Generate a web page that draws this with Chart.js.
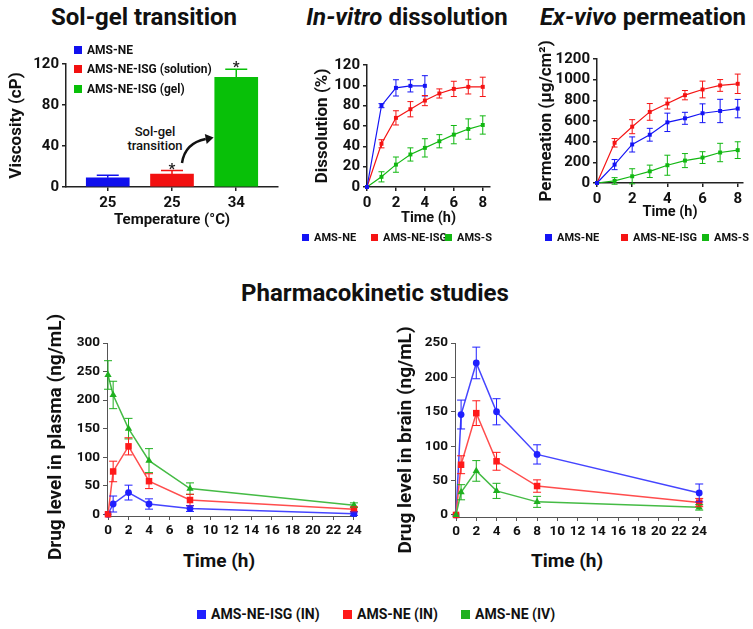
<!DOCTYPE html>
<html>
<head>
<meta charset="utf-8">
<script src="https://cdn.jsdelivr.net/npm/chart.js@4.4.1/dist/chart.umd.min.js"></script>
<style>
  body { margin: 0; background: #fff; }
  #page { position: relative; width: 753px; height: 629px; overflow: hidden; font-family: Roboto, sans-serif; color: #111; }
  canvas { position: absolute; }
  .title { position: absolute; width: 400px; text-align: center; font-weight: 700; font-size: 24px; line-height: 28px; white-space: nowrap; }
  .lg { position: absolute; display: flex; align-items: center; height: 18px; white-space: nowrap; font-weight: 700; }
  .lg i { display: inline-block; width: 8px; height: 8px; margin-right: 5px; }
  .axt { position: absolute; width: 300px; text-align: center; font-weight: 700; line-height: 24px; white-space: nowrap; }
  .note { position: absolute; width: 80px; text-align: center; font-size: 13px; font-weight: 500; line-height: 14px; }
</style>
</head>
<body>
<div id="page">
  <div class="title" style="left:-56px;top:3px">Sol-gel transition</div>
  <div class="title" style="left:207px;top:3px"><i>In-vitro</i> dissolution</div>
  <div class="title" style="left:443px;top:3px"><i>Ex-vivo</i> permeation</div>
  <div class="title" style="left:175px;top:279px">Pharmacokinetic studies</div>
  <div class="note" style="left:115px;top:125px">Sol-gel<br>transition</div>

  <canvas id="solgel" width="285" height="210" style="left:0;top:30px"></canvas>
  <canvas id="dissolution" width="195" height="200" style="left:300px;top:30px"></canvas>
  <canvas id="permeation" width="220" height="200" style="left:530px;top:30px"></canvas>
  <canvas id="plasma" width="305" height="245" style="left:60px;top:300px"></canvas>
  <canvas id="brain" width="295" height="245" style="left:415px;top:300px"></canvas>

  <div class="axt" style="left:-95px;top:425px;font-size:19px;transform:rotate(-90deg)">Drug level in plasma (ng/mL)</div>
  <div class="axt" style="left:255px;top:428px;font-size:19px;transform:rotate(-90deg)">Drug level in brain (ng/mL)</div>
  <div class="axt" style="left:69px;top:549px;font-size:19px">Time (h)</div>
  <div class="axt" style="left:417px;top:549px;font-size:19px">Time (h)</div>
</div>

<script>
// ____________________ data ____________________
// Sol-gel transition (viscosity, cP)
const tempLabels = ['25', '25', '34'];
const solGelNames = ['AMS-NE', 'AMS-NE-ISG (solution)', 'AMS-NE-ISG (gel)'];
const viscosity = [9, 12.5, 107];
const viscosityErr = [2.5, 3.5, 8];
const viscositySig = ['', '*', '*'];
const viscosityTicks = [0, 40, 80, 120];

// In-vitro dissolution (%)
const dissTime = [0, 1, 2, 3, 4, 5, 6, 7, 8];
const dissNE = [0, 80, 97.5, 99.5, 99.5];
const dissNEErr = [0, 2, 8, 6, 10];
const dissISG = [0, 42.5, 68, 76.5, 85, 92, 96.5, 98.5, 98.5];
const dissISGErr = [0, 4, 7, 7.5, 5, 4.5, 7.5, 7, 9.5];
const dissS = [0, 10, 22, 32, 38.5, 45, 51.5, 57, 61];
const dissSErr = [0, 5, 7.5, 6.5, 9, 6.5, 9, 10, 9];
const dissTicks = [0, 20, 40, 60, 80, 100, 120];

// Ex-vivo permeation (ug/cm2)
const permTime = [0, 1, 2, 3, 4, 5, 6, 7, 8];
const permNE = [0, 178, 373, 467, 587, 626, 675, 697, 720];
const permNEErr = [0, 49, 73, 62, 89, 58, 91, 113, 89];
const permISG = [0, 389, 545, 688, 769, 850, 905, 944, 960];
const permISGErr = [0, 41, 68, 81, 53, 45, 81, 57, 94];
const permS = [0, 20, 65, 113, 172, 217, 246, 295, 318];
const permSErr = [0, 32, 73, 60, 97, 68, 57, 89, 81];
const permTicks = [0, 200, 400, 600, 800, 1000, 1200];
const timeTicks8 = [0, 2, 4, 6, 8];
const topNames = ['AMS-NE', 'AMS-NE-ISG', 'AMS-S'];

// Pharmacokinetics (ng/mL)
const pkTime = [0, 0.5, 2, 4, 8, 24];
const pkTicks = [0, 2, 4, 6, 8, 10, 12, 14, 16, 18, 20, 22, 24];
const pkNames = ['AMS-NE-ISG (IN)', 'AMS-NE (IN)', 'AMS-NE (IV)'];
const plasmaISG = [0, 18, 38, 18, 10, 1];
const plasmaISGErr = [0, 14, 13, 9, 5, 3];
const plasmaNEIN = [0, 75, 119, 58, 25, 9];
const plasmaNEINErr = [0, 18, 15, 13, 10, 4];
const plasmaNEIV = [244, 209, 150, 94, 45, 16];
const plasmaNEIVErr = [25, 24, 18, 21, 10, 4];
const plasmaTicks = [0, 50, 100, 150, 200, 250, 300];
const brainISG = [0, 146, 221, 150, 88, 32];
const brainISGErr = [0, 21, 23, 19, 14, 13];
const brainNEIN = [0, 73, 148, 78, 42, 18];
const brainNEINErr = [0, 13, 18, 13, 9, 6];
const brainNEIV = [0, 33, 64, 35, 19, 11];
const brainNEIVErr = [0, 11, 15, 11, 8, 4];
const brainTicks = [0, 50, 100, 150, 200, 250];

// colours
const BLUE = '#1414f5', RED = '#f51414', GREEN = '#12b812';
const barColors = ['#1010ee', '#f21010', '#08c008'];

// ____________________ plugins ____________________
const errorBars = {
    id: 'errorBars',
    afterDatasetsDraw(chart, args, opts) {
        const ctx = chart.ctx;
        const y = chart.scales.y;
        chart.data.datasets.forEach((ds, di) => {
            if (!ds.errors) return;
            const meta = chart.getDatasetMeta(di);
            ctx.save();
            ctx.lineWidth = opts.width || 1;
            meta.data.forEach((el, i) => {
                const e = ds.errors[i];
                if (!e) return;
                const v = ds.data[i].y;
                const top = y.getPixelForValue(v + e);
                const bot = opts.upOnly ? el.y : y.getPixelForValue(v - e);
                ctx.strokeStyle = Array.isArray(ds.errorColor) ? ds.errorColor[i] : ds.errorColor;
                ctx.beginPath();
                ctx.moveTo(el.x, top); ctx.lineTo(el.x, bot);
                ctx.moveTo(el.x - opts.cap, top); ctx.lineTo(el.x + opts.cap, top);
                if (!opts.upOnly) { ctx.moveTo(el.x - opts.cap, bot); ctx.lineTo(el.x + opts.cap, bot); }
                ctx.stroke();
            });
            ctx.restore();
        });
    }
};

const sigStars = {
    id: 'sigStars',
    afterDatasetsDraw(chart) {
        const ctx = chart.ctx, y = chart.scales.y;
        const ds = chart.data.datasets[0];
        const meta = chart.getDatasetMeta(0);
        ctx.save();
        ctx.font = 'bold 15px Roboto';
        ctx.textAlign = 'center';
        ctx.fillStyle = '#222';
        meta.data.forEach((el, i) => {
            if (!viscositySig[i]) return;
            const top = y.getPixelForValue(ds.data[i].y + ds.errors[i]);
            ctx.fillText(viscositySig[i], el.x, top + 3);
        });
        ctx.restore();
    }
};

// curved arrow from the "Sol-gel transition" note to the gel bar
const solGelArrow = {
    id: 'solGelArrow',
    afterDraw(chart) {
        const ctx = chart.ctx;
        const gel = chart.getDatasetMeta(0).data[2];
        const sx = 182, sy = 133, cx = 185, cy = 113;
        const ex = gel.x - gel.width / 2 - 9, ey = 109;
        ctx.save();
        ctx.strokeStyle = '#111';
        ctx.fillStyle = '#111';
        ctx.lineWidth = 2.5;
        ctx.beginPath();
        ctx.moveTo(sx, sy);
        ctx.quadraticCurveTo(cx, cy, ex, ey);
        ctx.stroke();
        const a = Math.atan2(ey - cy, ex - cx);
        ctx.beginPath();
        ctx.moveTo(ex + 8 * Math.cos(a), ey + 8 * Math.sin(a));
        ctx.lineTo(ex + 5 * Math.cos(a + Math.PI / 2), ey + 5 * Math.sin(a + Math.PI / 2));
        ctx.lineTo(ex + 5 * Math.cos(a - Math.PI / 2), ey + 5 * Math.sin(a - Math.PI / 2));
        ctx.closePath();
        ctx.fill();
        ctx.restore();
    }
};

// ____________________ helpers ____________________
const bold = size => ({ family: 'Roboto', weight: 'bold', size: size });
const pts = (xs, ys) => ys.map((v, i) => ({ x: xs[i], y: v }));

function axis(o) {
    return {
        type: 'linear',
        offset: false,
        min: o.min,
        max: o.max,
        afterBuildTicks: s => { s.ticks = o.ticks.map(v => ({ value: v })); },
        afterFit: s => { if (o.width !== undefined) s.width = o.width; if (o.height !== undefined) s.height = o.height; },
        ticks: { font: bold(o.font), color: '#111', padding: 3, autoSkip: false, maxRotation: 0, callback: o.callback },
        grid: { display: true, offset: false, drawOnChartArea: false, tickLength: 4, color: o.color, lineWidth: o.lineWidth },
        border: { display: true, color: o.color, width: o.lineWidth },
        title: o.title ? { display: true, text: o.title, font: bold(o.titleFont), color: '#111', padding: o.titlePad } : { display: false }
    };
}

function series(label, xs, ys, errs, color, style, radius, lineColor, width) {
    return {
        label: label,
        data: pts(xs, ys),
        errors: errs,
        errorColor: color,
        borderColor: lineColor || color,
        backgroundColor: color,
        pointBackgroundColor: color,
        pointBorderColor: color,
        borderWidth: width,
        pointStyle: style,
        pointRadius: radius,
        pointBorderWidth: 0,
        clip: false,
        tension: 0
    };
}

const baseOptions = (pad, scales, cap) => ({
    responsive: false,
    animation: false,
    layout: { padding: pad },
    plugins: { legend: { display: false }, tooltip: { enabled: false }, errorBars: { cap: cap, width: 1 } },
    scales: scales
});

function addLegend(names, colors, spots, size, box) {
    const page = document.getElementById('page');
    names.forEach((n, i) => {
        const d = document.createElement('div');
        d.className = 'lg';
        d.style.left = spots[i][0] + 'px';
        d.style.top = (spots[i][1] - 9) + 'px';
        d.style.fontSize = size + 'px';
        d.innerHTML = `<i style="background:${colors[i]};width:${box}px;height:${box}px"></i>${n}`;
        page.appendChild(d);
    });
}

// ____________________ Sol-gel (bar) ____________________
new Chart(document.getElementById('solgel'), {
    type: 'bar',
    data: {
        datasets: [{
            data: pts([0, 1, 2], viscosity),
            errors: viscosityErr,
            errorColor: barColors,
            backgroundColor: barColors,
            barThickness: 43,
            borderWidth: 0
        }]
    },
    options: {
        responsive: false,
        animation: false,
        layout: { padding: { top: 34, right: 7, left: 0, bottom: 0 } },
        plugins: { legend: { display: false }, tooltip: { enabled: false }, errorBars: { cap: 11, upOnly: true, width: 1.5 } },
        scales: {
            x: axis({ min: -0.65, max: 2.65, ticks: [0, 1, 2], callback: v => tempLabels[v], font: 15, color: '#222', lineWidth: 1.5,
                      height: 53, title: 'Temperature (°C)', titleFont: 15, titlePad: { top: 0, bottom: 11 } }),
            y: axis({ min: 0, max: 120, ticks: viscosityTicks, font: 15, color: '#222', lineWidth: 1.5,
                      width: 66, title: 'Viscosity (cP)', titleFont: 17, titlePad: { top: 7, bottom: 0 } })
        }
    },
    plugins: [errorBars, sigStars, solGelArrow]
});
addLegend(solGelNames, barColors, [[74, 50], [74, 69], [74, 89]], 12, 8);

// ____________________ In-vitro dissolution ____________________
new Chart(document.getElementById('dissolution'), {
    type: 'line',
    data: {
        datasets: [
            series(topNames[0], dissTime, dissNE, dissNEErr, BLUE, 'rect', 2.8, null, 1.2),
            series(topNames[1], dissTime, dissISG, dissISGErr, RED, 'rect', 2.8, null, 1.2),
            series(topNames[2], dissTime, dissS, dissSErr, GREEN, 'rect', 2.8, null, 1.2)
        ]
    },
    options: baseOptions({ top: 35, right: 5, left: 0, bottom: 0 }, {
        x: axis({ min: 0, max: 8.5, ticks: timeTicks8, font: 15, color: '#222', lineWidth: 1.5,
                  height: 43, title: 'Time (h)', titleFont: 14.5, titlePad: { top: 0, bottom: 3 } }),
        y: axis({ min: 0, max: 120, ticks: dissTicks, font: 15, color: '#222', lineWidth: 1.5,
                  width: 67, title: 'Dissolution (%)', titleFont: 17, titlePad: { top: 12.5, bottom: 0 } })
    }, 3),
    plugins: [errorBars]
});
addLegend(topNames, [BLUE, RED, GREEN], [[302, 237], [371, 237], [445, 237]], 11, 7);

// ____________________ Ex-vivo permeation ____________________
new Chart(document.getElementById('permeation'), {
    type: 'line',
    data: {
        datasets: [
            series(topNames[0], permTime, permNE, permNEErr, BLUE, 'rect', 2.8, null, 1.2),
            series(topNames[1], permTime, permISG, permISGErr, RED, 'rect', 2.8, null, 1.2),
            series(topNames[2], permTime, permS, permSErr, GREEN, 'rect', 2.8, null, 1.2)
        ]
    },
    options: baseOptions({ top: 29, right: 7, left: 0, bottom: 0 }, {
        x: axis({ min: 0, max: 8.3, ticks: timeTicks8, font: 15, color: '#222', lineWidth: 1.5,
                  height: 47, title: 'Time (h)', titleFont: 14.5, titlePad: { top: 0, bottom: 9 } }),
        y: axis({ min: 0, max: 1200, ticks: permTicks, font: 15, color: '#222', lineWidth: 1.5,
                  width: 67, title: 'Permeation (µg/cm²)', titleFont: 17, titlePad: { top: 7, bottom: 0 } })
    }, 3),
    plugins: [errorBars]
});
addLegend(topNames, [BLUE, RED, GREEN], [[545, 237], [621, 237], [702, 237]], 11, 7);

// ____________________ Pharmacokinetics ____________________
const pkBlue = '#2020ff', pkRed = '#ff1a1a', pkGreen = '#1fb01f';

new Chart(document.getElementById('plasma'), {
    type: 'line',
    data: {
        datasets: [
            series(pkNames[2], pkTime, plasmaNEIV, plasmaNEIVErr, pkGreen, 'triangle', 4.2, '#45bb45', 1.5),
            series(pkNames[1], pkTime, plasmaNEIN, plasmaNEINErr, pkRed, 'rect', 4.6, '#ff4d4d', 1.5),
            series(pkNames[0], pkTime, plasmaISG, plasmaISGErr, pkBlue, 'circle', 3.4, '#4545ff', 1.5)
        ]
    },
    options: baseOptions({ top: 43, right: 9, left: 0, bottom: 0 }, {
        x: axis({ min: -0.1, max: 24.2, ticks: pkTicks, font: 13.5, color: '#555', lineWidth: 1, height: 29 }),
        y: axis({ min: -3, max: 300, ticks: plasmaTicks, font: 13.5, color: '#555', lineWidth: 1, width: 47 })
    }, 4),
    plugins: [errorBars]
});

new Chart(document.getElementById('brain'), {
    type: 'line',
    data: {
        datasets: [
            series(pkNames[2], pkTime, brainNEIV, brainNEIVErr, pkGreen, 'triangle', 4.2, '#45bb45', 1.5),
            series(pkNames[1], pkTime, brainNEIN, brainNEINErr, pkRed, 'rect', 4.6, '#ff4d4d', 1.5),
            series(pkNames[0], pkTime, brainISG, brainISGErr, pkBlue, 'circle', 3.4, '#4545ff', 1.5)
        ]
    },
    options: baseOptions({ top: 43, right: 6, left: 0, bottom: 0 }, {
        x: axis({ min: -0.1, max: 24.2, ticks: pkTicks, font: 13.5, color: '#555', lineWidth: 1, height: 28 }),
        y: axis({ min: -3, max: 250, ticks: brainTicks, font: 13.5, color: '#555', lineWidth: 1, width: 40 })
    }, 4),
    plugins: [errorBars]
});
addLegend(pkNames, [pkBlue, pkRed, pkGreen], [[197, 614], [343, 614], [461, 614]], 14, 9);
</script>
</body>
</html>
